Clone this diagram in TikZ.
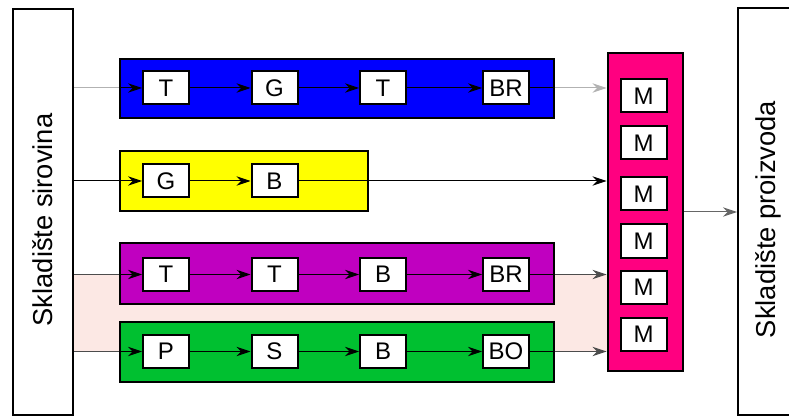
\documentclass[tikz,border=0pt]{standalone}
\usepackage{fontspec}
\setmainfont{Liberation Sans}
\usetikzlibrary{arrows.meta, fit}
\definecolor{mblue}{RGB}{0,0,255}
\definecolor{myellow}{RGB}{255,255,0}
\definecolor{mpurple}{RGB}{192,0,192}
\definecolor{mgreen}{RGB}{0,192,48}
\definecolor{mmagenta}{RGB}{255,0,128}
\definecolor{mpink}{RGB}{252,232,228}

\begin{document}
\begin{tikzpicture}[
    x=0.75pt, y=-0.75pt,
    stepnode/.style={rectangle, draw=black, fill=white, line width=1.5pt, minimum width=34.5pt, minimum height=24.75pt, inner sep=0pt, font=\fontsize{18}{20}\selectfont},
    bandnode/.style={rectangle, draw=black, line width=1.2pt, inner sep=0pt},
    storenode/.style={rectangle, draw=black, line width=1.5pt, inner sep=0pt},
    storetext/.style={rotate=90, font=\fontsize{20.5}{22}\selectfont},
    flow/.style={-{Stealth[length=10.5pt, width=7pt, inset=3.5pt]}, line width=0.75pt},
    link/.style={line width=0.75pt}
    ]
    \useasboundingbox (0,0) rectangle (789,417);

    %Backgrounds
    \node[fill=mpink, inner sep=0pt, fit={(74,275) (607,351)}] (pozadina) {};
    \node[storenode, fit={(13,9) (73,415)}] (sirovine) {};
    \node[storetext] at ([yshift=-6pt]sirovine.center) {Skladište sirovina};
    \node[storenode, fit={(738,8) (798,415)}] (proizvodi) {};
    \node[storetext] at ([yshift=-6pt]proizvodi.center) {Skladište proizvoda};
    \node[bandnode, fill=mblue, fit={(120,59) (554,118)}] (plava) {};
    \node[bandnode, fill=myellow, fit={(120,151) (368,211)}] (zuta) {};
    \node[bandnode, fill=mpurple, fit={(120,243) (554,304)}] (ljubicasta) {};
    \node[bandnode, fill=mgreen, fit={(120,322) (554,382)}] (zelena) {};
    \node[bandnode, fill=mmagenta, line width=2.2pt, fit={(608,53) (683,371)}] (montaza) {};

    %Nodes
    \node[stepnode] (t1)  at (166,88)    {T};
    \node[stepnode] (g1)  at (274.5,88)  {G};
    \node[stepnode] (tt1) at (383,88)    {T};
    \node[stepnode] (br1) at (506,88)    {BR};

    \node[stepnode] (g2)  at (166,181)   {G};
    \node[stepnode] (b2)  at (274.5,181) {B};

    \node[stepnode] (t3)  at (166,274.5)   {T};
    \node[stepnode] (tt3) at (274.5,274.5) {T};
    \node[stepnode] (b3)  at (383,274.5)   {B};
    \node[stepnode] (br3) at (506,274.5)   {BR};

    \node[stepnode] (p4)  at (166,351.5)   {P};
    \node[stepnode] (s4)  at (274.5,351.5) {S};
    \node[stepnode] (b4)  at (383,351.5)   {B};
    \node[stepnode] (bo4) at (506,351.5)   {BO};

    \node[stepnode] (m1) at (643.5,96)    {M};
    \node[stepnode] (m2) at (643.5,143)   {M};
    \node[stepnode] (m3) at (643.5,194)   {M};
    \node[stepnode] (m4) at (643.5,241)   {M};
    \node[stepnode] (m5) at (643.5,287.5) {M};
    \node[stepnode] (m6) at (643.5,334)   {M};

    %Lines
    \draw[link, gray!60] (sirovine.east |- t1) -- (plava.west |- t1);
    \draw[flow] (plava.west |- t1) -- (t1.west);
    \draw[flow] (t1.east) -- (g1.west);
    \draw[flow] (g1.east) -- (tt1.west);
    \draw[flow] (tt1.east) -- (br1.west);
    \draw[link] (br1.east) -- (plava.east |- br1);
    \draw[flow, gray!60] (plava.east |- br1) -- (montaza.west |- br1);

    \draw[flow] (sirovine.east |- g2) -- (g2.west);
    \draw[flow] (g2.east) -- (b2.west);
    \draw[flow] (b2.east) -- (montaza.west |- b2);

    \draw[link, black!70] (sirovine.east |- t3) -- (ljubicasta.west |- t3);
    \draw[flow] (ljubicasta.west |- t3) -- (t3.west);
    \draw[flow] (t3.east) -- (tt3.west);
    \draw[flow] (tt3.east) -- (b3.west);
    \draw[flow] (b3.east) -- (br3.west);
    \draw[link] (br3.east) -- (ljubicasta.east |- br3);
    \draw[flow, black!70] (ljubicasta.east |- br3) -- (montaza.west |- br3);

    \draw[link, black!70] (sirovine.east |- p4) -- (zelena.west |- p4);
    \draw[flow] (zelena.west |- p4) -- (p4.west);
    \draw[flow] (p4.east) -- (s4.west);
    \draw[flow] (s4.east) -- (b4.west);
    \draw[flow] (b4.east) -- (bo4.west);
    \draw[link] (bo4.east) -- (zelena.east |- bo4);
    \draw[flow, black!70] (zelena.east |- bo4) -- (montaza.west |- bo4);

    \draw[flow, black!60] (montaza.east) -- (proizvodi.west |- montaza.east);
\end{tikzpicture}
\end{document}
